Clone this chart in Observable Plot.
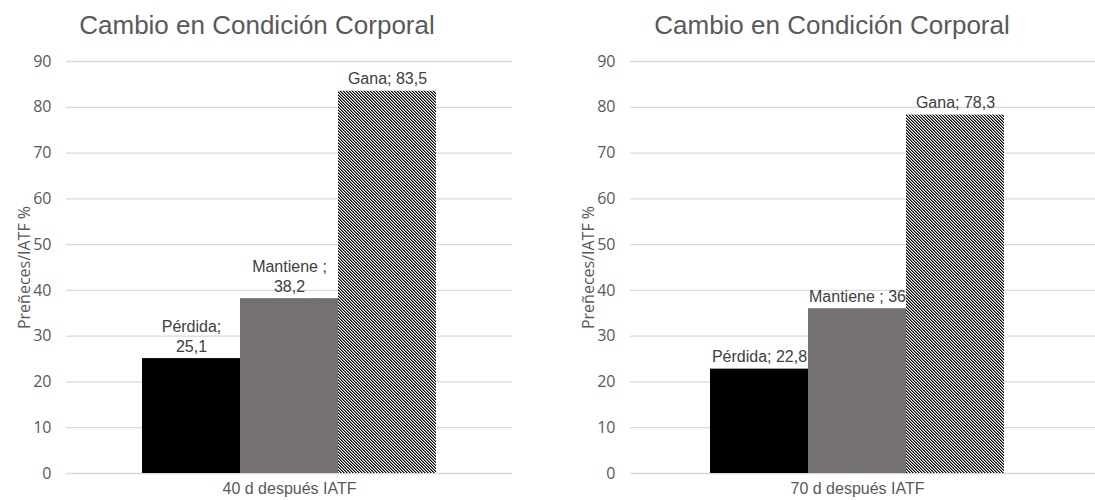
<!DOCTYPE html>
<html>
<head>
<meta charset="utf-8">
<script src="https://cdn.jsdelivr.net/npm/d3@7"></script>
<script src="https://cdn.jsdelivr.net/npm/@observablehq/plot@0.6"></script>
<style>
  html, body { margin: 0; padding: 0; background: #fff; }
  #root { position: relative; width: 1095px; height: 500px; overflow: hidden; }
  .title { position: absolute; top: 10px; font-family: "Liberation Sans", Arial, sans-serif; font-size: 26px; color: #595959; text-align: center; white-space: nowrap; }
  .panel { position: absolute; top: 45px; }
  .panel svg { background: transparent; overflow: visible; }
</style>
</head>
<body>
<div id="root"></div>
<script>
// ---- data ----
const title = "Cambio en Condición Corporal";
const yLabel = "Preñeces/IATF %";
const series = ["Pérdida", "Mantiene ", "Gana"];
const groups = ["40 d después IATF", "70 d después IATF"];
const values40 = [25.1, 38.2, 83.5];
const values70 = [22.8, 36, 78.3];
const labels40 = ["Pérdida;\n25,1", "Mantiene ;\n38,2", "Gana; 83,5"];
const labels70 = ["Pérdida; 22,8", "Mantiene ; 36", "Gana; 78,3"];
const yTicks = [0, 10, 20, 30, 40, 50, 60, 70, 80, 90];
const barColors = ["#000000", "#767171"];

const root = document.getElementById("root");

function addTitle(left, width) {
  const t = document.createElement("div");
  t.className = "title";
  t.style.left = left + "px";
  t.style.width = width + "px";
  t.textContent = title;
  root.appendChild(t);
}

function makePanel({left, width, marginLeft, marginRight, padOuter, align, group, values, labels, hatchId}) {
  const data = series.map((s, i) => ({s, v: values[i], label: labels[i]}));
  const plot = Plot.plot({
    width,
    height: 455,
    marginTop: 16,
    marginBottom: 27,
    marginLeft,
    marginRight,
    style: {background: "transparent", overflow: "visible", fontSize: "16px", fontFamily: "'Open Sans', Lato, sans-serif", color: "#595959"},
    x: {domain: series, paddingInner: 0, paddingOuter: padOuter, align, axis: null},
    y: {domain: [0, 90], ticks: yTicks, label: null},
    color: {domain: series, range: [...barColors, `url(#${hatchId})`]},
    marks: [
      Plot.gridY(yTicks, {stroke: "#d9d9d9", strokeOpacity: 1, strokeWidth: 1.3}),
      Plot.axisY(yTicks, {
        tickSize: 0, tickPadding: 15, fill: "#595959", fontSize: 16,
        label: yLabel, labelAnchor: "center", labelArrow: "none", labelOffset: 48
      }),
      Plot.barY(data, {x: "s", y: "v", fill: "s"}),
      Plot.text(data, {
        x: "s", y: "v", text: "label",
        lineAnchor: "bottom", dy: -7, lineHeight: 1.25,
        fontSize: 16, fontFamily: "'Liberation Sans', Arial, sans-serif", fill: "#404040"
      }),
      Plot.text([group], {
        x: () => series[1], frameAnchor: "bottom", text: d => d, dy: 20,
        fontSize: 16, fontFamily: "'Liberation Sans', Arial, sans-serif", fill: "#595959"
      })
    ]
  });
  // hatch pattern: 3px diagonal "\" lines (black / grey / white pixels)
  const ns = "http://www.w3.org/2000/svg";
  const defs = document.createElementNS(ns, "defs");
  defs.innerHTML = `<pattern id="${hatchId}" patternUnits="userSpaceOnUse" width="3" height="3" shape-rendering="crispEdges">
      <rect width="3" height="3" fill="#ffffff"/>
      <rect x="0" y="0" width="1" height="1" fill="#000"/>
      <rect x="1" y="1" width="1" height="1" fill="#000"/>
      <rect x="2" y="2" width="1" height="1" fill="#000"/>
      <rect x="1" y="0" width="1" height="1" fill="#7a7a7a"/>
      <rect x="2" y="1" width="1" height="1" fill="#7a7a7a"/>
      <rect x="0" y="2" width="1" height="1" fill="#7a7a7a"/>
    </pattern>`;
  plot.insertBefore(defs, plot.firstChild);
  const wrap = document.createElement("div");
  wrap.className = "panel";
  wrap.style.left = left + "px";
  wrap.appendChild(plot);
  root.appendChild(wrap);
}

addTitle(0, 514);
addTitle(560, 544);

makePanel({left: 0, width: 530, marginLeft: 66, marginRight: 18, padOuter: 0.76, align: 0.5,
  group: groups[0], values: values40, labels: labels40, hatchId: "hatch40"});
makePanel({left: 560, width: 535, marginLeft: 70, marginRight: 0, padOuter: 0.87, align: 0.47,
  group: groups[1], values: values70, labels: labels70, hatchId: "hatch70"});
</script>
</body>
</html>
